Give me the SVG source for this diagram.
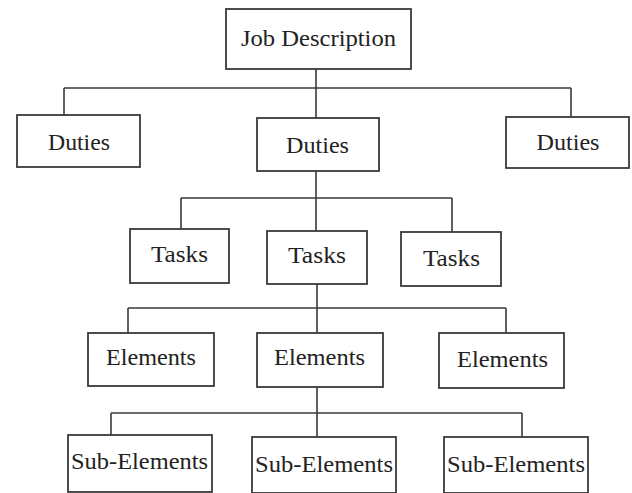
<svg xmlns="http://www.w3.org/2000/svg" width="632" height="493" viewBox="0 0 632 493">
<style>
rect{fill:#fff;stroke:#3a3a3a;stroke-width:1.8}
text{font-family:"Times New Roman","Liberation Serif","DejaVu Serif",serif;font-size:23px;fill:#222;text-anchor:middle}
.c{fill:none;stroke:#3a3a3a;stroke-width:1.6}
</style>
<rect x="0" y="0" width="632" height="493" style="stroke:none"/>
<g id="connectors">
<path class="c" d="M316 69V118M64 88H571M64 88V115M571 88V117"/>
<path class="c" d="M316 171V231M181 198H452M181 198V229M452 198V232"/>
<path class="c" d="M317 284V333M128 308H506M128 308V333M506 308V333"/>
<path class="c" d="M317 387V437M111 413H522M111 413V435M522 413V437"/>
</g>
<g id="job"><rect x="226" y="9" width="185" height="60"/><text x="318.5" y="46" textLength="155" lengthAdjust="spacingAndGlyphs">Job Description</text></g>
<g id="duties1"><rect x="17" y="115" width="123" height="52"/><text x="79" y="150" textLength="62" lengthAdjust="spacingAndGlyphs">Duties</text></g>
<g id="duties2"><rect x="257" y="118" width="122" height="53"/><text x="317.5" y="153" textLength="63" lengthAdjust="spacingAndGlyphs">Duties</text></g>
<g id="duties3"><rect x="506" y="117" width="123" height="51"/><text x="568" y="150" textLength="63" lengthAdjust="spacingAndGlyphs">Duties</text></g>
<g id="tasks1"><rect x="130" y="229" width="99" height="54"/><text x="179.5" y="262" textLength="57" lengthAdjust="spacingAndGlyphs">Tasks</text></g>
<g id="tasks2"><rect x="267" y="231" width="100" height="53"/><text x="317" y="263" textLength="58" lengthAdjust="spacingAndGlyphs">Tasks</text></g>
<g id="tasks3"><rect x="401" y="232" width="100" height="54"/><text x="451.5" y="266" textLength="57" lengthAdjust="spacingAndGlyphs">Tasks</text></g>
<g id="elements1"><rect x="88" y="333" width="126" height="53"/><text x="151" y="365" textLength="90" lengthAdjust="spacingAndGlyphs">Elements</text></g>
<g id="elements2"><rect x="257" y="333" width="126" height="54"/><text x="319.5" y="365" textLength="91" lengthAdjust="spacingAndGlyphs">Elements</text></g>
<g id="elements3"><rect x="439" y="333" width="125" height="55"/><text x="502.5" y="367" textLength="91" lengthAdjust="spacingAndGlyphs">Elements</text></g>
<g id="sub1"><rect x="68" y="435" width="144" height="57"/><text x="139.5" y="469" textLength="137" lengthAdjust="spacingAndGlyphs">Sub-Elements</text></g>
<g id="sub2"><rect x="252" y="437" width="144" height="56"/><text x="324" y="472" textLength="138" lengthAdjust="spacingAndGlyphs">Sub-Elements</text></g>
<g id="sub3"><rect x="444" y="437" width="144" height="56"/><text x="516" y="472" textLength="138" lengthAdjust="spacingAndGlyphs">Sub-Elements</text></g>
</svg>
